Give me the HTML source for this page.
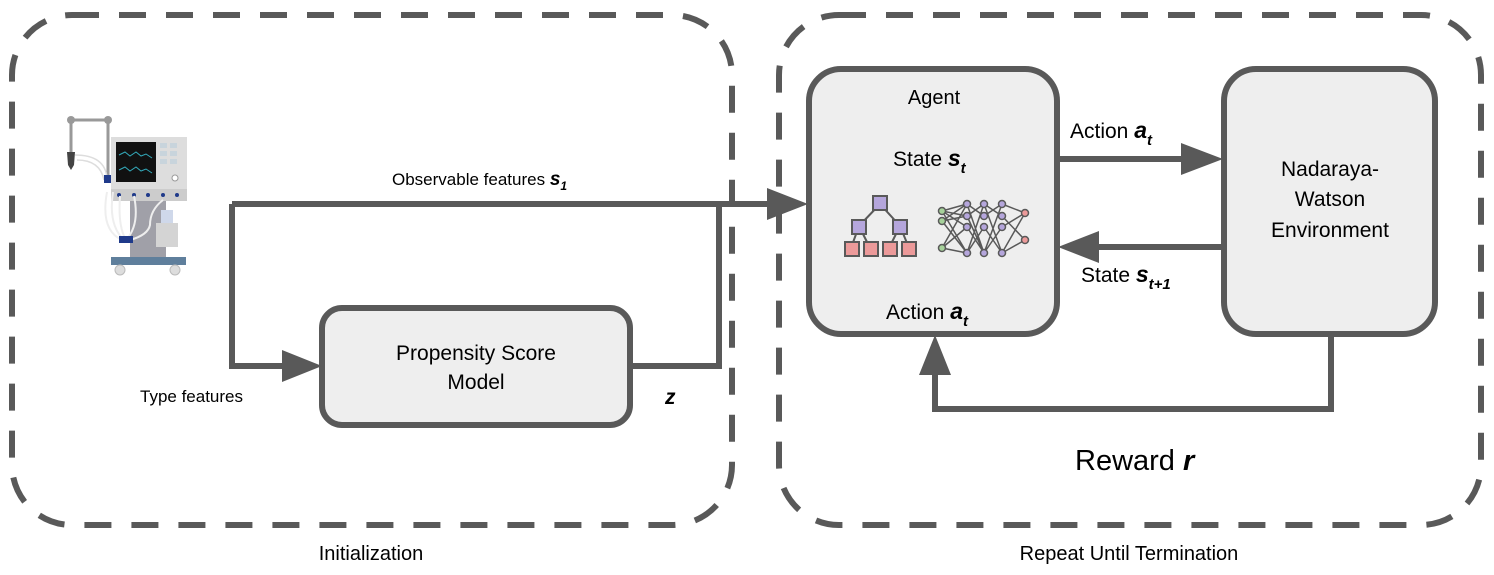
<!DOCTYPE html>
<html><head><meta charset="utf-8"><style>
body{margin:0;background:#fff}
svg{display:block}
text{font-family:"Liberation Sans",Arial,sans-serif;fill:#000}
</style></head><body>
<svg width="1494" height="575" viewBox="0 0 1494 575" xmlns="http://www.w3.org/2000/svg">
<!-- dashed containers -->
<rect x="12" y="15" width="720" height="510" rx="60" fill="none" stroke="#595959" stroke-width="6" stroke-dasharray="27 20"/>
<rect x="779" y="15" width="702" height="510" rx="60" fill="none" stroke="#595959" stroke-width="6" stroke-dasharray="27 20"/>
<text x="371" y="560" font-size="20" text-anchor="middle">Initialization</text>
<text x="1129" y="560" font-size="20" text-anchor="middle">Repeat Until Termination</text>

<!-- boxes -->
<rect x="322" y="308" width="308" height="117" rx="20" fill="#eeeeee" stroke="#595959" stroke-width="6"/>
<text x="476" y="360" font-size="21" text-anchor="middle">Propensity Score</text>
<text x="476" y="389" font-size="21" text-anchor="middle">Model</text>

<rect x="809" y="69" width="248" height="265" rx="32" fill="#eeeeee" stroke="#595959" stroke-width="6"/>
<text x="934" y="104" font-size="20" text-anchor="middle">Agent</text>
<text x="893" y="166" font-size="21">State <tspan font-weight="bold" font-style="italic" font-size="23">s</tspan><tspan font-weight="bold" font-style="italic" font-size="15" dy="7">t</tspan></text>
<text x="886" y="319" font-size="21">Action <tspan font-weight="bold" font-style="italic" font-size="23">a</tspan><tspan font-weight="bold" font-style="italic" font-size="15" dy="7">t</tspan></text>

<rect x="1224" y="69" width="211" height="265" rx="32" fill="#eeeeee" stroke="#595959" stroke-width="6"/>
<text x="1330" y="176" font-size="21" text-anchor="middle">Nadaraya-</text>
<text x="1330" y="206" font-size="21" text-anchor="middle">Watson</text>
<text x="1330" y="237" font-size="21" text-anchor="middle">Environment</text>

<!-- tree icon -->
<g stroke="#595959" stroke-width="2">
<line x1="880" y1="204" x2="859" y2="226"/><line x1="880" y1="204" x2="900" y2="226"/>
<line x1="859" y1="226" x2="851" y2="248"/><line x1="859" y1="226" x2="870" y2="248"/>
<line x1="900" y1="226" x2="889" y2="248"/><line x1="900" y1="226" x2="909" y2="248"/>
<rect x="873" y="196" width="14" height="14" fill="#b5a6dc"/>
<rect x="852" y="220" width="14" height="14" fill="#b5a6dc"/>
<rect x="893" y="220" width="14" height="14" fill="#b5a6dc"/>
<rect x="845" y="242" width="14" height="14" fill="#ec9a9a"/>
<rect x="864" y="242" width="14" height="14" fill="#ec9a9a"/>
<rect x="883" y="242" width="14" height="14" fill="#ec9a9a"/>
<rect x="902" y="242" width="14" height="14" fill="#ec9a9a"/>
</g>
<!-- nn icon -->
<g stroke="#595959" stroke-width="1.5">
<path d="M942 211L967 204M942 211L967 216M942 211L967 227M942 211L967 253M942 221L967 204M942 221L967 216M942 221L967 253M942 248L967 204M942 248L967 227M942 248L967 253
M967 204L984 216M967 204L984 253M967 216L984 204M967 216L984 253M967 253L984 204M967 253L984 227M967 227L984 253
M984 204L1002 216M984 204L1002 253M984 216L1002 204M984 253L1002 204M984 253L1002 227M984 227L1002 253
M1002 204L1025 213M1002 216L1025 240M1002 253L1025 213M1002 253L1025 240M1002 227L1025 213" fill="none"/>
<g fill="#a6d19a"><circle cx="942" cy="211" r="3.5"/><circle cx="942" cy="221" r="3.5"/><circle cx="942" cy="248" r="3.5"/></g>
<g fill="#b5a6dc">
<circle cx="967" cy="204" r="3.5"/><circle cx="967" cy="216" r="3.5"/><circle cx="967" cy="227" r="3.5"/><circle cx="967" cy="253" r="3.5"/>
<circle cx="984" cy="204" r="3.5"/><circle cx="984" cy="216" r="3.5"/><circle cx="984" cy="227" r="3.5"/><circle cx="984" cy="253" r="3.5"/>
<circle cx="1002" cy="204" r="3.5"/><circle cx="1002" cy="216" r="3.5"/><circle cx="1002" cy="227" r="3.5"/><circle cx="1002" cy="253" r="3.5"/>
</g>
<g fill="#ec9a9a"><circle cx="1025" cy="213" r="3.5"/><circle cx="1025" cy="240" r="3.5"/></g>
</g>

<!-- connectors -->
<g stroke="#595959" stroke-width="6" fill="none">
<polyline points="232,204 232,366 285,366"/>
<line x1="232" y1="204" x2="770" y2="204"/>
<polyline points="630,366 719,366 719,204"/>
<line x1="1057" y1="159" x2="1186" y2="159"/>
<line x1="1224" y1="247" x2="1098" y2="247"/>
<polyline points="1331,334 1331,409 935,409 935,375"/>
</g>
<g fill="#595959">
<polygon points="808,204 767,188 767,220"/>
<polygon points="322,366 282,350 282,382"/>
<polygon points="1223,159 1181,143 1181,175"/>
<polygon points="1058,247 1099,231 1099,263"/>
<polygon points="935,335 919,375 951,375"/>
</g>

<!-- labels -->
<text x="392" y="185" font-size="17">Observable features <tspan font-weight="bold" font-style="italic" font-size="19">s</tspan><tspan font-weight="bold" font-style="italic" font-size="12" dy="5">1</tspan></text>
<text x="140" y="402" font-size="17">Type features</text>
<text x="665" y="404" font-size="21" font-weight="bold" font-style="italic">z</text>
<text x="1070" y="138" font-size="21">Action <tspan font-weight="bold" font-style="italic" font-size="23">a</tspan><tspan font-weight="bold" font-style="italic" font-size="15" dy="7">t</tspan></text>
<text x="1081" y="282" font-size="21">State <tspan font-weight="bold" font-style="italic" font-size="23">s</tspan><tspan font-weight="bold" font-style="italic" font-size="15" dy="7">t+1</tspan></text>
<text x="1075" y="470" font-size="29">Reward <tspan font-weight="bold" font-style="italic">r</tspan></text>

<!-- ventilator -->
<g>
<line x1="71" y1="120" x2="108" y2="120" stroke="#999" stroke-width="3"/>
<line x1="71" y1="120" x2="71" y2="152" stroke="#999" stroke-width="3"/>
<line x1="108" y1="120" x2="108" y2="180" stroke="#999" stroke-width="3"/>
<circle cx="71" cy="120" r="4" fill="#999"/><circle cx="108" cy="120" r="4" fill="#999"/>
<path d="M67 152 L75 152 L74 165 L71 170 L68 165 Z" fill="#444"/>
<path d="M75 155 Q105 155 107 178 M77 160 Q100 160 104 180" stroke="#ddd" stroke-width="1.5" fill="none"/>
<rect x="111" y="137" width="76" height="52" fill="#ddd"/>
<rect x="116" y="142" width="40" height="40" fill="#111"/>
<path d="M119 155 l6 -3 l5 4 l6 -4 l5 4 l5 -2 l6 4 M119 170 l6 -3 l5 4 l6 -4 l5 4 l5 -2 l6 4" stroke="#3ab" stroke-width="1" fill="none"/>
<rect x="160" y="143" width="7" height="5" fill="#c8d4dc"/><rect x="170" y="143" width="7" height="5" fill="#c8d4dc"/>
<rect x="160" y="151" width="7" height="5" fill="#c8d4dc"/><rect x="170" y="151" width="7" height="5" fill="#c8d4dc"/>
<rect x="160" y="159" width="7" height="5" fill="#c8d4dc"/><rect x="170" y="159" width="7" height="5" fill="#c8d4dc"/>
<circle cx="175" cy="178" r="3" fill="#fff" stroke="#999"/>
<rect x="111" y="189" width="76" height="12" fill="#ccc"/>
<g fill="#1f3a8a"><circle cx="119" cy="195" r="2"/><circle cx="134" cy="195" r="2"/><circle cx="148" cy="195" r="2"/><circle cx="163" cy="195" r="2"/><circle cx="177" cy="195" r="2"/></g>
<rect x="130" y="201" width="36" height="57" fill="#a0a0a8"/>
<rect x="104" y="175" width="7" height="8" fill="#1f3a8a"/>
<path d="M107 192 Q100 230 122 240 M113 192 Q108 225 124 240 M120 196 Q118 225 125 238 M134 196 Q140 225 126 240 M163 200 Q150 210 150 225 Q148 235 130 240" stroke="#eee" stroke-width="2" fill="none"/>
<rect x="119" y="236" width="14" height="7" fill="#1f3a8a"/>
<rect x="161" y="210" width="12" height="14" fill="#cfd8ea"/>
<rect x="156" y="223" width="22" height="24" fill="#d4d4d4"/>
<rect x="111" y="257" width="75" height="8" fill="#5f7f9c"/>
<circle cx="120" cy="270" r="5" fill="#ddd" stroke="#bbb"/><circle cx="175" cy="270" r="5" fill="#ddd" stroke="#bbb"/>
</g>
</svg>
</body></html>
